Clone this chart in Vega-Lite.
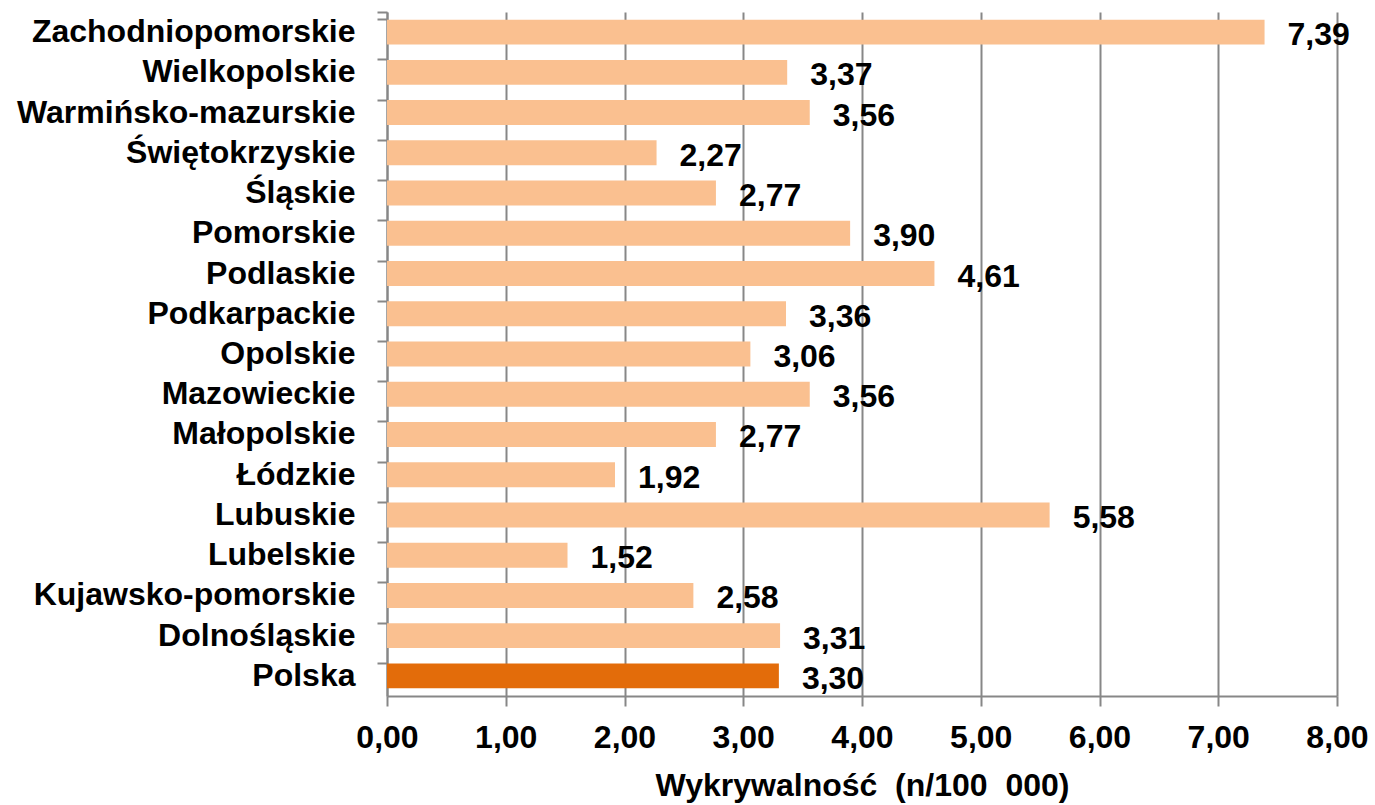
{
  "$schema": "https://vega.github.io/schema/vega-lite/v6.json",
  "width": 950,
  "height": 684,
  "autosize": {"type": "none"},
  "padding": {"left": 387, "top": 12, "right": 38, "bottom": 109},
  "background": "white",
  "config": {
    "locale": {"number": {"decimal": ",", "thousands": " ", "grouping": [3], "currency": ["", ""]}},
    "font": "Liberation Sans",
    "view": {"stroke": null},
    "axis": {
      "domainColor": "#878787",
      "domainWidth": 2,
      "tickColor": "#878787",
      "tickWidth": 2,
      "tickSize": 10,
      "gridColor": "#878787",
      "gridWidth": 2,
      "gridOpacity": 1,
      "labelFont": "Liberation Sans",
      "labelFontWeight": "bold",
      "labelFontSize": 32,
      "labelColor": "#000000",
      "labelLimit": 0,
      "titleFont": "Liberation Sans",
      "titleFontWeight": "bold",
      "titleFontSize": 32,
      "titleColor": "#000000"
    }
  },
  "data": {
    "values": [
      {"region": "Zachodniopomorskie", "value": 7.39, "grupa": "województwo"},
      {"region": "Wielkopolskie", "value": 3.37, "grupa": "województwo"},
      {"region": "Warmińsko-mazurskie", "value": 3.56, "grupa": "województwo"},
      {"region": "Świętokrzyskie", "value": 2.27, "grupa": "województwo"},
      {"region": "Śląskie", "value": 2.77, "grupa": "województwo"},
      {"region": "Pomorskie", "value": 3.90, "grupa": "województwo"},
      {"region": "Podlaskie", "value": 4.61, "grupa": "województwo"},
      {"region": "Podkarpackie", "value": 3.36, "grupa": "województwo"},
      {"region": "Opolskie", "value": 3.06, "grupa": "województwo"},
      {"region": "Mazowieckie", "value": 3.56, "grupa": "województwo"},
      {"region": "Małopolskie", "value": 2.77, "grupa": "województwo"},
      {"region": "Łódzkie", "value": 1.92, "grupa": "województwo"},
      {"region": "Lubuskie", "value": 5.58, "grupa": "województwo"},
      {"region": "Lubelskie", "value": 1.52, "grupa": "województwo"},
      {"region": "Kujawsko-pomorskie", "value": 2.58, "grupa": "województwo"},
      {"region": "Dolnośląskie", "value": 3.31, "grupa": "województwo"},
      {"region": "Polska", "value": 3.30, "grupa": "kraj"}
    ]
  },
  "encoding": {
    "y": {
      "field": "region",
      "type": "nominal",
      "sort": null,
      "scale": {"paddingInner": 0.38, "paddingOuter": 0.19},
      "axis": {
        "title": null,
        "grid": false,
        "bandPosition": 0,
        "tickExtra": true,
        "labelPadding": 22
      }
    },
    "x": {
      "field": "value",
      "type": "quantitative",
      "scale": {"domain": [0, 8], "nice": false},
      "axis": {
        "values": [0, 1, 2, 3, 4, 5, 6, 7, 8],
        "format": ".2f",
        "grid": true,
        "labelFlush": false,
        "labelOverlap": false,
        "labelPadding": 16,
        "title": "Wykrywalność\u00a0 (n/100\u00a0 000)",
        "titlePadding": 17
      }
    }
  },
  "layer": [
    {
      "mark": {"type": "bar"},
      "encoding": {
        "color": {
          "field": "grupa",
          "type": "nominal",
          "scale": {"domain": ["województwo", "kraj"], "range": ["#FAC090", "#E36C0A"]},
          "legend": null
        }
      }
    },
    {
      "mark": {
        "type": "text",
        "align": "left",
        "baseline": "middle",
        "dx": 23,
        "dy": 3,
        "font": "Liberation Sans",
        "fontWeight": "bold",
        "fontSize": 32,
        "color": "#000000"
      },
      "encoding": {
        "text": {"field": "value", "type": "quantitative", "format": ".2f"}
      }
    }
  ]
}
